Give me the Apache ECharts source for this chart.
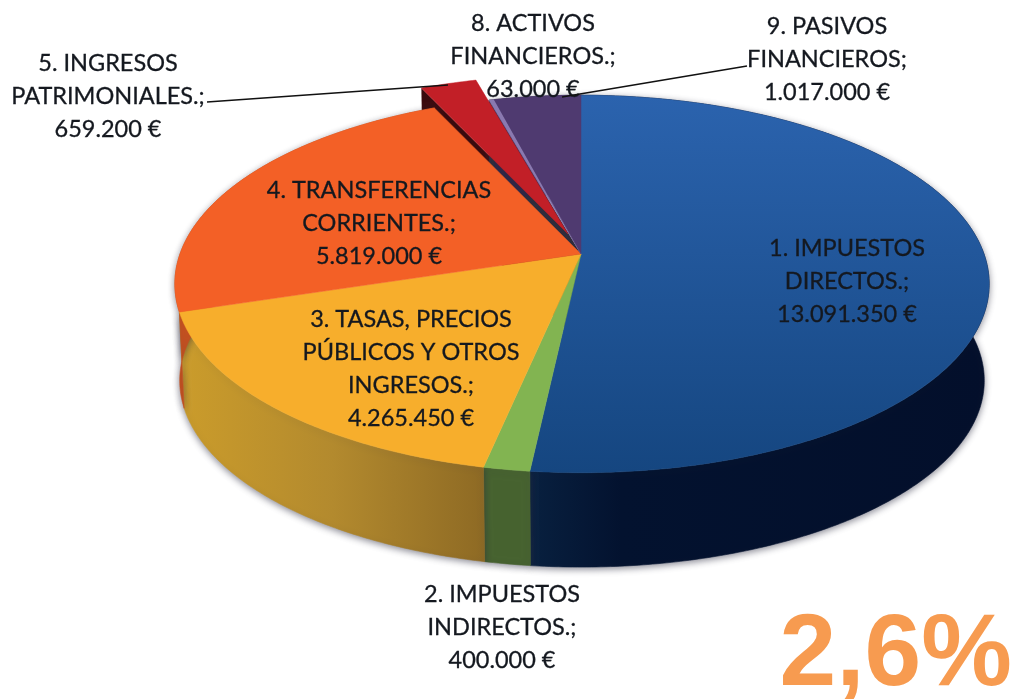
<!DOCTYPE html>
<html>
<head>
<meta charset="utf-8">
<style>html,body{margin:0;padding:0;background:#fff}#c{width:1013px;height:699px}</style>
<script src="https://cdn.jsdelivr.net/npm/echarts@6/dist/echarts.min.js"></script>
</head>
<body>
<div id="c"></div>
<script>
// ---- data ----
const categories = [
  "1. IMPUESTOS\nDIRECTOS.",
  "2. IMPUESTOS\nINDIRECTOS.",
  "3. TASAS, PRECIOS\nPÚBLICOS Y OTROS\nINGRESOS.",
  "4. TRANSFERENCIAS\nCORRIENTES.",
  "5. INGRESOS\nPATRIMONIALES.",
  "8. ACTIVOS\nFINANCIEROS.",
  "9. PASIVOS\nFINANCIEROS"
];
const amounts = [13091350, 400000, 4265450, 5819000, 659200, 63000, 1017000];
const headline = "2,6%";

// ---- layout and style ----
const topColors = [
  {grad:['#2b63ae','#154680']}, '#82b451', '#f7ae2c', '#f36026', '#c21f27', '#8a79b0', '#4f3a70'
];
const wallColors = [
  {stops:[[0,'#08203f'],[0.2,'#03122f'],[1,'#030f2b']]},
  '#46622f',
  {stops:[[0,'#cb9c2b'],[0.5,'#b38a2e'],[1,'#8e6a24']]},
  '#c4501f', '#3a0a0e', '#2f2c3c', '#2f2645'
];
const explodedBy = [null,null,null,null,[-13,-20],null,null];
const labelPos = [[847,281],[502,627],[411,369],[379,223],[108,96],[533,56],[827,59]];
const leaders = {4:[[207,102],[448,85]], 6:[[747,66],[562,97]]};
const CX=581, CY=254, RX=403, RXL=401, RY=184, P=0.1587;
const BX=0.988, BY=0.988, BDY=97;
const FONT='23.5px Lato, "Noto Sans", sans-serif';

function euros(v){return String(v).replace(/\B(?=(\d{3})+$)/g,'.')+' €';}
const total = amounts.reduce((a,b)=>a+b,0);
const startFrac = amounts.map((_,i)=>amounts.slice(0,i).reduce((a,b)=>a+b,0)/total);

function radX(t){return Math.sin(t)<0?RXL:RX;}
function topPt(t,off){const w=1+P*Math.cos(t);
  return [CX+radX(t)*Math.sin(t)/w+off[0], CY-RY*Math.cos(t)/w+off[1]];}
function botPt(t,off){const w=1+P*Math.cos(t);
  return [CX+BX*radX(t)*Math.sin(t)/w+off[0], CY+BDY-BY*RY*Math.cos(t)/w+off[1]];}
function arc(f,a,b,off){const pts=[],n=Math.max(2,Math.ceil((b-a)/0.01));
  for(let i=0;i<=n;i++)pts.push(f(a+(b-a)*i/n,off));return pts;}
function fillOf(c,y0,y1,x0,x1){
  if(typeof c==='string')return c;
  if(c.grad)return new echarts.graphic.LinearGradient(0,y0,0,y1,[{offset:0,color:c.grad[0]},{offset:1,color:c.grad[1]}],true);
  return new echarts.graphic.LinearGradient(x0,0,x1,0,c.stops.map(s=>({offset:s[0],color:s[1]})),true);
}

function renderSlice(params,api){
  const i=params.dataIndex, v=api.value(0);
  const a=startFrac[i]*2*Math.PI, b=a+v/total*2*Math.PI;
  const off=explodedBy[i]||[0,0];
  const apex=[CX+off[0],CY+off[1]];
  const apexB=[CX+off[0],CY+BDY+off[1]];
  const kids=[];
  // radial inner wall, seen only in the gap around the pulled-out slice
  if(i===4||i===5){
    const o=topPt(a,off), ob=botPt(a,off);
    kids.push({type:'polygon',z2:1,shape:{points:[o,apex,apexB,ob]},style:{fill:wallColors[i]}});
  }
  // outer wall
  if(!explodedBy[i]){
    const tp=arc(topPt,a,b,off), bp=arc(botPt,a,b,off).reverse();
    const xs=tp.concat(bp).map(p=>p[0]);
    const x0=Math.min(...xs), x1=Math.max(...xs);
    kids.push({type:'polygon',z2:2,shape:{points:tp.concat(bp)},
      style:{fill:fillOf(wallColors[i],0,0,x0,x1),stroke:fillOf(wallColors[i],0,0,x0,x1),lineWidth:0.6,
        shadowBlur:7,shadowColor:'rgba(40,40,60,0.55)',shadowOffsetY:2,shadowOffsetX:0}});
  }
  // top face
  kids.push({type:'polygon',z2:explodedBy[i]?4:3,
    shape:{points:[apex].concat(arc(topPt,a,b,off))},
    style:{fill:fillOf(topColors[i],95,473),stroke:fillOf(topColors[i],95,473),lineWidth:0.5}});
  // leader line
  if(leaders[i]){
    kids.push({type:'line',z2:6,shape:{x1:leaders[i][0][0],y1:leaders[i][0][1],x2:leaders[i][1][0],y2:leaders[i][1][1]},
      style:{stroke:'#111',lineWidth:1.6}});
  }
  // label
  kids.push({type:'text',z2:5,style:{
    text:categories[i]+';\n'+euros(v),x:labelPos[i][0],y:labelPos[i][1],
    align:'center',verticalAlign:'middle',textAlign:'center',textVerticalAlign:'middle',
    font:FONT,lineHeight:33,fill:'#14181f',stroke:'#14181f',lineWidth:0.3}});
  return {type:'group',children:kids};
}

const chart=echarts.init(document.getElementById('c'),null,{renderer:'canvas'});
chart.setOption({
  animation:false,
  backgroundColor:'#fff',
  title:{text:headline,right:-4,top:593,textStyle:{color:'#f79b50',fontFamily:'"Liberation Sans",Arial,sans-serif',fontWeight:'bold',fontSize:102,lineHeight:118}},
  tooltip:{show:false},
  series:[{type:'custom',coordinateSystem:'none',renderItem:renderSlice,
    data:amounts.map((v,i)=>({name:categories[i],value:[v]})),silent:true,clip:false}]
});
</script>
</body>
</html>
